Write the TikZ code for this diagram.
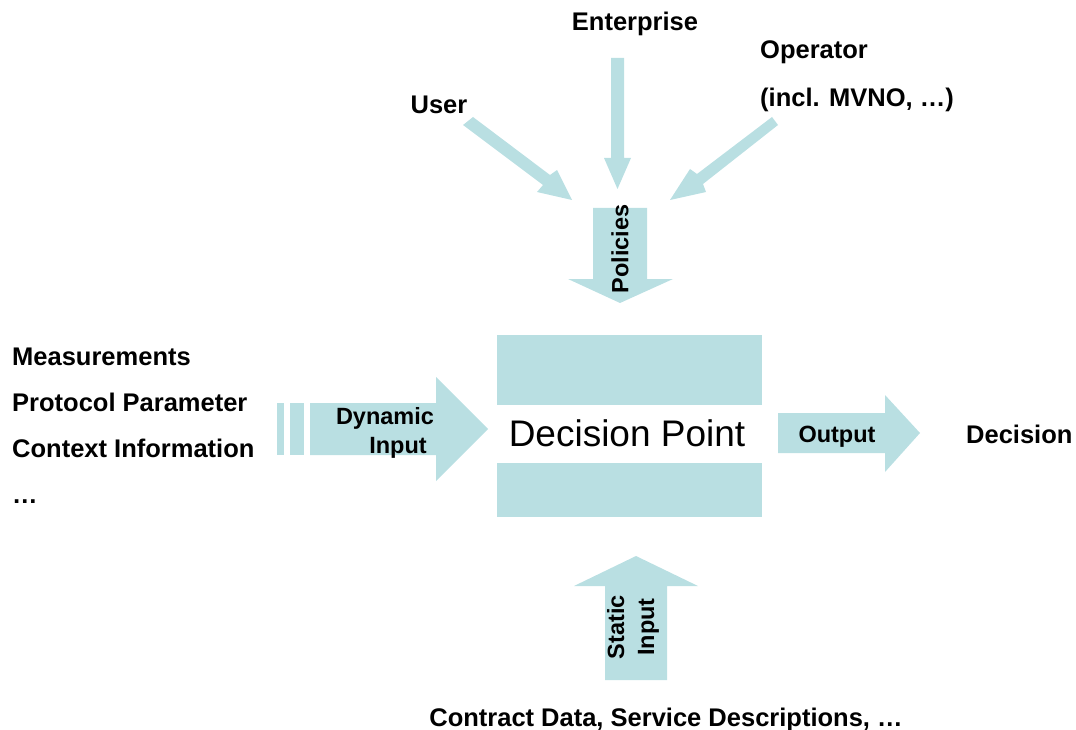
\documentclass[tikz,border=0pt]{standalone}
\usepackage{fontspec}
\setmainfont{Liberation Sans}
\definecolor{arr}{RGB}{185,223,226}
\begin{document}
\begin{tikzpicture}[x=1pt,y=-1pt,
  lbl/.style={font=\fontsize{25.5}{30}\selectfont\bfseries, inner sep=0pt},
  albl/.style={font=\fontsize{23.5}{30}\selectfont\bfseries, inner sep=0pt, align=center},
  shp/.style={fill=arr, draw=none}]
\useasboundingbox (0,0) rectangle (1076,730);
% top three arrows
\fill[shp] (611,58) -- (624,58) -- (624,158) -- (631,158) -- (617.5,189) -- (604,158) -- (611,158) -- cycle;
% User arrow
\fill[shp] (463,125) -- (473,117) -- (550,175) -- (557,170) -- (572,200) -- (537,192) -- (543,185) -- cycle;
% Operator arrow
\fill[shp] (778,125) -- (772,117) -- (697,174) -- (690,169) -- (670,200) -- (706,192) -- (703,184) -- cycle;
% Policies
\fill[shp] (593,208) -- (647,208) -- (647,279) -- (673,279) -- (620,303) -- (568,279) -- (593,279) -- cycle;
% Decision point boxes
\fill[shp] (497,335) rectangle (762,405);
\fill[shp] (497,463) rectangle (762,517);
% Dynamic input
\fill[shp] (277,403) rectangle (284,455);
\fill[shp] (290,403) rectangle (304,455);
\fill[shp] (310,403) -- (436,403) -- (436,377) -- (488,429) -- (436,481) -- (436,455) -- (310,455) -- cycle;
% Output
\fill[shp] (778,413) -- (885,413) -- (885,395) -- (920,433) -- (885,472) -- (885,453) -- (778,453) -- cycle;
% Static input
\fill[shp] (605,680) -- (605,586) -- (574,586) -- (636,556) -- (698,586) -- (667,586) -- (667,680) -- cycle;
% texts
\node[lbl, anchor=base] (ent) at (635,31) {Enterprise};
\node[lbl, anchor=base] (usr) at (439,114) {User};
\node[lbl, anchor=base west] (op1) at (760,59) {Operator};
\node[lbl, anchor=base west] (op2) at (760,107) {(incl. MVNO, …)};
\node[lbl, anchor=base west] (m1) at (12,365) {Measurements};
\node[lbl, anchor=base west] (m2) at (12,411) {Protocol Parameter};
\node[lbl, anchor=base west] (m3) at (12,457) {Context Information};
\node[lbl, anchor=base west] (m4) at (12,503) {…};
\node[lbl, anchor=base west] (dec) at (966,443) {Decision};
\node[lbl, anchor=base] (con) at (666,726) {Contract Data, Service Descriptions, …};
\node[font=\fontsize{37}{40}\selectfont, inner sep=0pt, anchor=base] (dp) at (627,446) {Decision Point};
\node[albl, anchor=base] (dyn1) at (385,424) {Dynamic};
\node[albl, anchor=base] (dyn2) at (398,453) {Input};
\node[albl, anchor=base] (out) at (837,442) {Output};
\node[albl, rotate=90] (pol) at (620,249) {Policies};
\node[albl, rotate=90, font=\fontsize{23.5}{30}\selectfont\bfseries] (sta) at (633,627) {Static\\Input};
\end{tikzpicture}
\end{document}
